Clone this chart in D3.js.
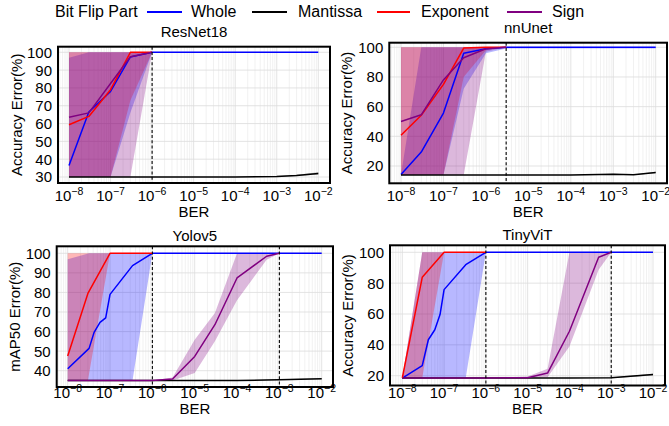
<!DOCTYPE html>
<html><head><meta charset="utf-8">
<script src="https://cdn.jsdelivr.net/npm/d3@7"></script>
<style>
body{margin:0;background:#fff}
svg{display:block}
text{font-family:"Liberation Sans",Arial,Helvetica,sans-serif;fill:#000}
</style>
</head><body>
<svg id="chart" width="669" height="426"></svg>
<script>
// ---------- DATA: rows are [BER, mean error, band low, band high] ----------
const seriesNames = ["Whole", "Mantissa", "Exponent", "Sign"];
const panelTitles = ["ResNet18", "nnUnet", "Yolov5", "TinyViT"];
const yTitles = ["Accuracy Error(%)", "Accuracy Error(%)", "mAP50 Error(%)", "Accuracy Error(%)"];
const xTickExps = [-8, -7, -6, -5, -4, -3, -2];

const resnetYTicks = [30, 40, 50, 60, 70, 80, 90, 100];
const nnunetYTicks = [20, 40, 60, 80, 100];
const yoloYTicks = [40, 50, 60, 70, 80, 90, 100];
const tinyYTicks = [20, 40, 60, 80, 100];

const resnetDashed = [1e-6];
const nnunetDashed = [3e-6];
const yoloDashed = [1e-6, 1e-3];
const tinyDashed = [1e-6, 1e-3];

// ResNet18
const resnetWhole = [[1e-8,36.5,30,97],[3e-8,66.5,30,100],[1e-7,78,30,100],[3e-7,97.4,66,100],[1e-6,100,100,100],[1e-5,100,100,100],[1e-4,100,100,100],[1e-3,100,100,100],[1e-2,100,100,100]];
const resnetMantissa = [[1e-8,30,30,30],[1e-7,30,30,30],[1e-6,30,30,30],[1e-5,30,30,30],[1e-4,30,30,30],[1e-3,30.3,30.1,30.5],[3e-3,30.9,30.5,31.3],[1e-2,32,31.4,32.6]];
const resnetExponent = [[1e-8,59.3,30,100],[3e-8,64,30,100],[1e-7,79,30,100],[3e-7,100,73,100],[1e-6,100,100,100]];
const resnetSign = [[1e-8,63.5,30,100],[3e-8,66,30,100],[1e-7,82.5,30,100],[3e-7,97.5,30,100],[1e-6,100,100,100]];

// nnUnet
const nnunetWhole = [[1e-8,14.2,14,14.2],[3e-8,29.4,14,100],[1e-7,55.7,14,100],[3e-7,96,72,100],[1e-6,99,96,100],[3e-6,100,99.2,100],[1e-5,100,99.2,100],[1e-4,100,99.2,100],[1e-3,100,99.2,100],[1e-2,100,99.2,100]];
const nnunetMantissa = [[1e-8,14,14,14],[1e-7,14,14,14],[1e-6,14,14,14],[1e-5,14,14,14],[1e-4,14,14,14],[1e-3,14.5,14.2,14.8],[3e-3,14.1,14,14.3],[1e-2,15.6,15.1,16.1]];
const nnunetExponent = [[1e-8,40.7,14,100],[3e-8,54.2,14,100],[1e-7,75,14,100],[3e-7,99.5,80,100],[1e-6,100,98,100],[3e-6,100,100,100]];
const nnunetSign = [[1e-8,50,14,100],[3e-8,54.5,14,100],[1e-7,78,14,100],[3e-7,93,14,100],[1e-6,99,97,100],[3e-6,100,100,100]];

// Yolov5
const yoloWhole = [[1e-8,41,35,97],[3.2e-8,51.4,35,100],[4.2e-8,59.6,35,100],[5.8e-8,64.7,35,100],[7.9e-8,67,35,100],[1e-7,79,35,100],[3.4e-7,93.7,35,100],[1e-6,100,100,100],[1e-5,100,100,100],[1e-4,100,100,100],[1e-3,100,100,100],[1e-2,100,100,100]];
const yoloMantissa = [[1e-8,35,35,35],[1e-7,35,35,35],[1e-6,35,35,35],[1e-5,35,35,35],[1e-4,35,35,35],[1e-3,35.4,35.2,35.6],[1e-2,35.9,35.6,36.2]];
const yoloExponent = [[1e-8,47.5,35,100],[3e-8,79.5,35,100],[1e-7,100,100,100],[1e-6,100,100,100]];
const yoloSign = [[1e-8,35,35,35],[1e-7,35,35,35],[1e-6,35,35,35],[3e-6,35.8,35,36.5],[1e-5,47.3,38.8,55.8],[3e-5,63.5,55,69.5],[1e-4,87.4,76,100],[5e-4,98.5,96.7,100],[1e-3,100,100,100]];

// TinyViT
const tinyWhole = [[1e-8,18.5,18.5,18.5],[3e-8,26.5,18.5,100],[4.2e-8,43.3,18.5,100],[6e-8,49.8,18.5,100],[8e-8,59.6,18.5,100],[1e-7,75.8,18.5,100],[3.3e-7,92,18.5,100],[1e-6,100,100,100],[1e-5,100,100,100],[1e-4,100,100,100],[1e-3,100,100,100],[1e-2,100,100,100]];
const tinyMantissa = [[1e-8,18.5,18.5,18.5],[1e-7,18.5,18.5,18.5],[1e-6,18.5,18.5,18.5],[1e-5,18.5,18.5,18.5],[1e-4,18.5,18.5,18.5],[1e-3,18.6,18.4,18.8],[1e-2,20.7,20.2,21.2]];
const tinyExponent = [[1e-8,18.5,18.5,18.5],[3e-8,83.8,18.5,100],[1e-7,100,100,100],[1e-6,100,100,100]];
const tinySign = [[1e-8,18.5,18.5,18.5],[1e-7,18.5,18.5,18.5],[1e-6,18.5,18.5,18.5],[1e-5,18.7,18.5,19.5],[3e-5,21.7,19,24.5],[1e-4,48.8,39,100],[5e-4,96.8,88.7,100],[1e-3,100,100,100]];

// ---------- STYLE / LAYOUT ----------
const colors = {Whole:"#0000ff", Mantissa:"#000000", Exponent:"#ff0000", Sign:"#800080"};
const bandAlpha = 0.28;

const layout = [
  {frame:[58,46.7,330,183], xr:[69,318.3], yCal:[[30,177],[100,52.3]], titleY:37.3, tickY:201, berY:216.5, yTitleX:17},
  {frame:[389.3,42.7,667,183.3], xr:[401,655.7], yCal:[[20,166],[100,47.3]], titleY:33.3, tickY:201, berY:216.5, yTitleX:347},
  {frame:[56.7,246.3,333,387], xr:[67.7,321.7], yCal:[[40,370.7],[100,253.3]], titleY:241.3, tickY:398, berY:414, yTitleX:15},
  {frame:[390,245.3,665,385.5], xr:[402.3,653], yCal:[[20,375.7],[100,252.3]], titleY:239.7, tickY:398, berY:414, yTitleX:348}
];

const panelData = [
  {yTicks:resnetYTicks, dashed:resnetDashed, series:[resnetWhole,resnetMantissa,resnetExponent,resnetSign]},
  {yTicks:nnunetYTicks, dashed:nnunetDashed, series:[nnunetWhole,nnunetMantissa,nnunetExponent,nnunetSign]},
  {yTicks:yoloYTicks, dashed:yoloDashed, series:[yoloWhole,yoloMantissa,yoloExponent,yoloSign]},
  {yTicks:tinyYTicks, dashed:tinyDashed, series:[tinyWhole,tinyMantissa,tinyExponent,tinySign]}
];

const svg = d3.select("#chart");
const defs = svg.append("defs");

panelData.forEach((pd, i) => {
  const L = layout[i];
  const [fx0, fy0, fx1, fy1] = L.frame;
  const x = d3.scaleLog().domain([1e-8, 1e-2]).range(L.xr);
  const y = d3.scaleLinear().domain([L.yCal[0][0], L.yCal[1][0]]).range([L.yCal[0][1], L.yCal[1][1]]);
  const g = svg.append("g");
  defs.append("clipPath").attr("id", "clip" + i)
    .append("rect").attr("x", fx0).attr("y", fy0).attr("width", fx1 - fx0).attr("height", fy1 - fy0);
  const inner = g.append("g").attr("clip-path", `url(#clip${i})`);

  // grid: minor x
  const minor = [];
  for (let e = -9; e <= -2; e++) for (let m = 2; m <= 9; m++) minor.push(m * Math.pow(10, e));
  inner.selectAll(".minor").data(minor).enter().append("line")
    .attr("x1", d => x(d)).attr("x2", d => x(d)).attr("y1", fy0).attr("y2", fy1)
    .attr("stroke", "#ebebeb").attr("stroke-width", 0.7);
  inner.selectAll(".major").data(xTickExps).enter().append("line")
    .attr("x1", d => x(Math.pow(10, d))).attr("x2", d => x(Math.pow(10, d))).attr("y1", fy0).attr("y2", fy1)
    .attr("stroke", "#dcdcdc").attr("stroke-width", 0.8);
  inner.selectAll(".hgrid").data(pd.yTicks).enter().append("line")
    .attr("x1", fx0).attr("x2", fx1).attr("y1", d => y(d)).attr("y2", d => y(d))
    .attr("stroke", "#dcdcdc").attr("stroke-width", 0.8);

  // bands
  const area = d3.area().x(d => x(d[0])).y0(d => y(d[2])).y1(d => y(d[3]));
  pd.series.forEach((s, k) => {
    inner.append("path").attr("d", area(s)).attr("fill", colors[seriesNames[k]])
      .attr("fill-opacity", bandAlpha).attr("stroke", "none");
  });
  // lines
  const line = d3.line().x(d => x(d[0])).y(d => y(d[1]));
  pd.series.forEach((s, k) => {
    inner.append("path").attr("d", line(s)).attr("fill", "none")
      .attr("stroke", colors[seriesNames[k]]).attr("stroke-width", 1.5).attr("stroke-linejoin", "round");
  });
  // dashed verticals
  inner.selectAll(".vd").data(pd.dashed).enter().append("line")
    .attr("x1", d => x(d)).attr("x2", d => x(d)).attr("y1", fy0).attr("y2", fy1)
    .attr("stroke", "#000").attr("stroke-width", 1.1).attr("stroke-dasharray", "3,2.2");

  // frame
  g.append("rect").attr("x", fx0).attr("y", fy0).attr("width", fx1 - fx0).attr("height", fy1 - fy0)
    .attr("fill", "none").attr("stroke", "#000").attr("stroke-width", 2);

  // y tick labels
  g.selectAll(".yt").data(pd.yTicks).enter().append("text")
    .attr("x", fx0 - 6).attr("y", d => y(d)).attr("dy", "0.36em")
    .attr("text-anchor", "end").attr("font-size", 15).text(d => d);

  // x tick labels
  xTickExps.forEach(e => {
    const t = g.append("text").attr("x", x(Math.pow(10, e))).attr("y", L.tickY)
      .attr("text-anchor", "middle").attr("font-size", 15);
    t.append("tspan").text("10");
    t.append("tspan").attr("dy", -6.5).attr("font-size", 10.5).text("\u2212" + Math.abs(e));
  });

  // titles
  const cx = (fx0 + fx1) / 2;
  g.append("text").attr("x", cx).attr("y", L.titleY).attr("text-anchor", "middle")
    .attr("font-size", 15).text(panelTitles[i]);
  g.append("text").attr("x", cx).attr("y", L.berY).attr("text-anchor", "middle")
    .attr("font-size", 15).text("BER");
  const cy = (fy0 + fy1) / 2;
  g.append("text").attr("transform", `translate(${L.yTitleX},${cy}) rotate(-90)`)
    .attr("text-anchor", "middle").attr("dy", "0.35em").attr("font-size", 15).text(yTitles[i]);
});

// legend
const legendItems = [
  {name:"Whole", x1:147, x2:182, tx:191},
  {name:"Mantissa", x1:252, x2:287, tx:298},
  {name:"Exponent", x1:377, x2:410, tx:421},
  {name:"Sign", x1:507, x2:542, tx:552}
];
const lg = svg.append("g");
lg.append("text").attr("x", 55).attr("y", 17.3).attr("font-size", 16).text("Bit Flip Part");
legendItems.forEach(it => {
  lg.append("line").attr("x1", it.x1).attr("x2", it.x2).attr("y1", 12).attr("y2", 12)
    .attr("stroke", colors[it.name]).attr("stroke-width", 2);
  lg.append("text").attr("x", it.tx).attr("y", 17.3).attr("font-size", 16).text(it.name);
});
</script>
</body></html>
